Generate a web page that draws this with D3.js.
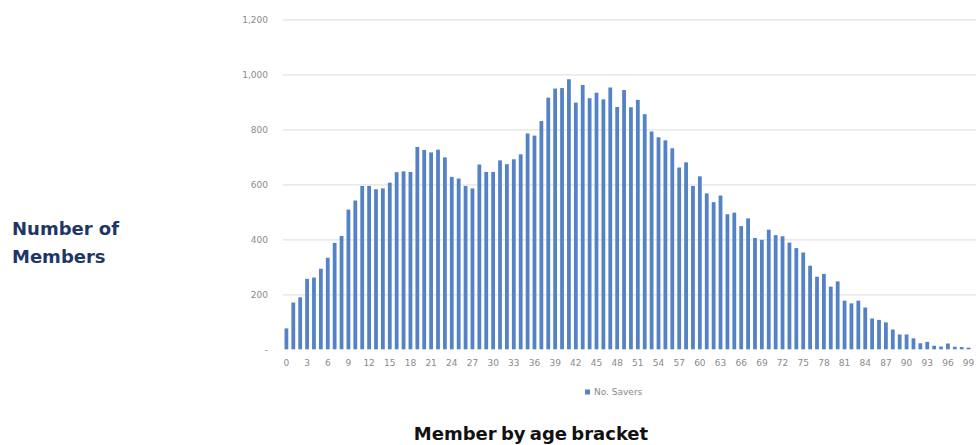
<!DOCTYPE html>
<html>
<head>
<meta charset="utf-8">
<script src="https://cdn.jsdelivr.net/npm/d3@7"></script>
<style>
  html, body { margin: 0; padding: 0; background: #fff; }
  svg { display: block; }
</style>
</head>
<body>
<svg id="chart" width="978" height="445"></svg>
<script>
// Member counts per age bracket (0–99)
const ages = d3.range(0, 100);
const savers = [
  76, 170, 189, 256, 261, 293, 333, 387, 412, 508,
  541, 594, 594, 582, 585, 606, 644, 647, 645, 736,
  725, 716, 726, 698, 627, 621, 594, 585, 672, 645,
  645, 687, 673, 691, 709, 785, 777, 830, 915, 948,
  950, 982, 897, 961, 913, 933, 909, 952, 881, 943,
  880, 907, 855, 792, 771, 760, 731, 661, 680, 594,
  629, 567, 535, 559, 491, 497, 448, 476, 405, 398,
  435, 415, 411, 388, 368, 352, 304, 264, 274, 228,
  247, 177, 167, 177, 152, 112, 107, 98, 72, 54,
  54, 40, 22, 27, 13, 10, 21, 9, 8, 6
];
const yTicks = [0, 200, 400, 600, 800, 1000, 1200];
const xTickAges = d3.range(0, 100, 3);
const seriesName = "No. Savers";
const yTitleLines = ["Number of", "Members"];
const xTitle = "Member by age bracket";

const smallFont = "9px 'DejaVu Sans', Verdana, sans-serif";
const titleFont = "bold 18px 'DejaVu Sans', Verdana, sans-serif";
const labelGrey = "#8a8a8a";
const barBlue = "#5482c6";

const svg = d3.select("#chart");

const plot = { left: 283, right: 972, top: 19.3, bottom: 349.3 };

const x = d3.scaleBand()
  .domain(ages)
  .range([plot.left, plot.right])
  .paddingInner(0.45)
  .paddingOuter(0.22);

const y = d3.scaleLinear()
  .domain([0, 1200])
  .range([plot.bottom, plot.top]);

// horizontal gridlines + value labels
const yAxis = d3.axisLeft(y)
  .tickValues(yTicks)
  .tickSize(-(976 - plot.left))
  .tickPadding(15)
  .tickFormat(d => d === 0 ? "-" : d3.format(",")(d));

const gy = svg.append("g")
  .attr("transform", `translate(${plot.left},0)`)
  .call(yAxis);
gy.select(".domain").remove();
gy.selectAll(".tick line")
  .attr("stroke", "#e3e3e3")
  .attr("stroke-width", 1.2)
  .filter(d => d === 0).remove();
gy.selectAll(".tick text")
  .attr("fill", labelGrey)
  .style("font", smallFont);

// bars
svg.append("g")
  .selectAll("rect")
  .data(ages)
  .join("rect")
  .attr("x", d => x(d))
  .attr("width", x.bandwidth())
  .attr("y", d => y(savers[d]))
  .attr("height", d => y(0) - y(savers[d]))
  .attr("fill", barBlue);

// category labels every third age
const xAxis = d3.axisBottom(x)
  .tickValues(xTickAges)
  .tickSize(0)
  .tickPadding(10);
const gx = svg.append("g")
  .attr("transform", `translate(0,${plot.bottom})`)
  .call(xAxis);
gx.select(".domain").remove();
gx.selectAll(".tick text")
  .attr("fill", labelGrey)
  .style("font", smallFont);

// legend
const legend = svg.append("g").attr("transform", "translate(585,392)");
legend.append("rect")
  .attr("x", 0).attr("y", -2.5)
  .attr("width", 5).attr("height", 5)
  .attr("fill", barBlue);
legend.append("text")
  .attr("x", 9).attr("y", 3.3)
  .attr("fill", labelGrey)
  .style("font", smallFont)
  .text(seriesName);

// axis titles
svg.append("text")
  .attr("fill", "#1f3767")
  .style("font", titleFont)
  .selectAll("tspan")
  .data(yTitleLines)
  .join("tspan")
  .attr("x", 12)
  .attr("y", (d, i) => 235 + i * 28)
  .text(d => d);

svg.append("text")
  .attr("x", 531)
  .attr("y", 440)
  .attr("text-anchor", "middle")
  .attr("fill", "#111")
  .style("font", titleFont)
  .style("word-spacing", "-2px")
  .text(xTitle);
</script>
</body>
</html>
